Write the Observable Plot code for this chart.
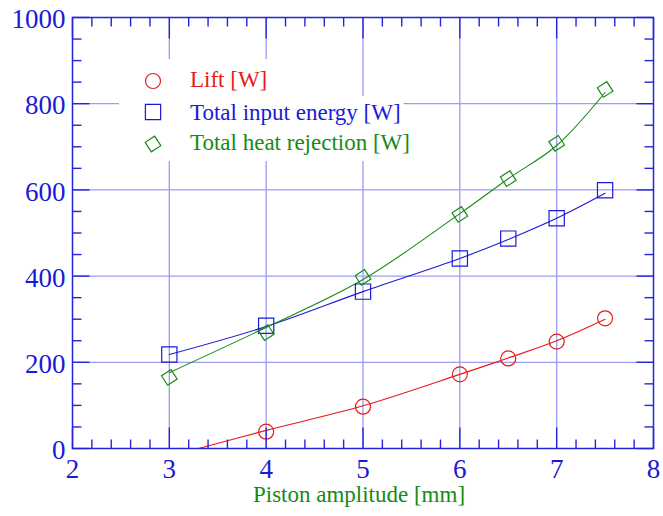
<!DOCTYPE html>
<html><head><meta charset="utf-8">
<script src="https://cdn.jsdelivr.net/npm/d3@7"></script>
<script src="https://cdn.jsdelivr.net/npm/@observablehq/plot@0.6"></script>
<style>
body{margin:0;background:#fff;}
#wrap{width:663px;height:516px;}
</style></head><body><div id="wrap"></div>
<script>
// ---- data ----
const amplitude = [3, 4, 5, 6, 6.5, 7, 7.5];
const liftAmp = [4, 5, 6, 6.5, 7, 7.5];
const lift = [39, 97, 172, 209, 248, 302];
const inputEnergy = [218, 285, 364, 441, 487, 534, 599];
const heatRejection = [165, 269, 397, 543, 626, 708, 833];
// fitted curves drawn as lines
const liftFitAmp = [3.3, 4, 5, 6, 6.5, 7, 7.5];
const liftFit = [0, 42, 99, 172, 210, 250, 300];
const inputFitAmp = [3, 4, 5, 6, 6.5, 7, 7.5];
const inputFit = [218, 283, 364, 441, 485, 534, 592];
const heatFitAmp = [3, 4, 5, 6, 6.5, 7, 7.5];
const heatFit = [176, 281, 392, 545, 626, 703, 826];
// ticks
const xTicks = [2, 3, 4, 5, 6, 7, 8];
const yTicks = [0, 200, 400, 600, 800, 1000];
const xGrid = [3, 4, 5, 6, 7];
const yGrid = [200, 400, 600, 800];
const xMinor = d3.range(2, 8.001, 0.2).map(v => +v.toFixed(1)).filter(v => !Number.isInteger(v));
const yMinor = d3.range(0, 1001, 50).filter(v => v % 200 !== 0);
const seriesNames = ["Lift [W]", "Total input energy [W]", "Total heat rejection [W]"];

const red = "#e81a1a", blue = "#1a1ad8", green = "#168a16";
const axisBlue = "#2424dc", gridCol = "#9d9df0";
const font = "'Liberation Serif', 'Times New Roman', 'DejaVu Serif', serif";

const tickShape = {draw(ctx, l) { ctx.moveTo(0, 0); ctx.lineTo(0, -l); }};
const tk = (data, opts) => Plot.vector(data, {anchor: "start", shape: tickShape, stroke: axisBlue, strokeWidth: 1.4, strokeLinecap: "butt", ...opts});

const lines = (xs, ys, color) => Plot.line(xs.map((x, i) => ({x, y: ys[i]})), {x: "x", y: "y", stroke: color, strokeWidth: 1.1, curve: "catmull-rom", clip: true});
const dots = (xs, ys, color, symbol, r, rotate = 0) => Plot.dot(xs.map((x, i) => ({x, y: ys[i]})), {x: "x", y: "y", stroke: color, fill: "none", symbol, r, strokeWidth: 1.2, rotate});

const plot = Plot.plot({
  width: 663, height: 516,
  marginLeft: 72, marginRight: 10, marginTop: 17, marginBottom: 68,
  x: {domain: [2, 8], axis: null}, y: {domain: [0, 1000], axis: null},
  style: {fontFamily: font, background: "white"},
  marks: [
    Plot.ruleX(xGrid, {stroke: gridCol, strokeWidth: 1.3}),
    Plot.ruleY(yGrid, {stroke: gridCol, strokeWidth: 1.3}),
    lines(liftFitAmp, liftFit, red),
    lines(inputFitAmp, inputFit, blue),
    lines(heatFitAmp, heatFit, green),
    dots(liftAmp, lift, red, "circle", 7.5),
    dots(amplitude, inputEnergy, blue, "square", 8.6),
    dots(amplitude, heatRejection, green, "diamond2", 7.2, 12),
    Plot.frame({stroke: axisBlue, strokeWidth: 1.5}),
    // bottom / top ticks
    tk(xTicks, {x: d => d, frameAnchor: "bottom", rotate: 0, length: 21}),
    tk(xMinor, {x: d => d, frameAnchor: "bottom", rotate: 0, length: 9}),
    tk(xTicks, {x: d => d, frameAnchor: "top", rotate: 180, length: 21}),
    tk(xMinor, {x: d => d, frameAnchor: "top", rotate: 180, length: 9}),
    // left / right ticks
    tk(yTicks, {y: d => d, frameAnchor: "left", rotate: 90, length: 17}),
    tk(yMinor, {y: d => d, frameAnchor: "left", rotate: 90, length: 9}),
    tk(yTicks, {y: d => d, frameAnchor: "right", rotate: -90, length: 17}),
    tk(yMinor, {y: d => d, frameAnchor: "right", rotate: -90, length: 9}),
    // tick labels
    Plot.text(xTicks, {x: d => d, text: d => String(d), frameAnchor: "bottom", lineAnchor: "top", dy: 10, fontSize: 27, fill: blue, fontFamily: font}),
    Plot.text(yTicks, {y: d => d, text: d => String(d), frameAnchor: "left", textAnchor: "end", dx: -7, dy: 2, fontSize: 27, fill: blue, fontFamily: font}),
    Plot.text(["Piston amplitude [mm]"], {text: d => d, frameAnchor: "bottom", dy: 53, dx: -4, fontSize: 23, fill: green, fontFamily: font})
  ]
});
document.getElementById("wrap").appendChild(plot);

// ---- legend (inside the frame, white boxes masking the grid) ----
const svg = d3.select(plot);
const leg = svg.append("g").style("font-family", font).attr("font-size", 23).attr("text-anchor", "start");
const rows = [
  {name: seriesNames[0], color: red, sym: "circle", r: 7.5, top: 59, bottom: 96, cy: 81, base: 87},
  {name: seriesNames[1], color: blue, sym: "square", r: 8.6, top: 96, bottom: 128, cy: 112, base: 120},
  {name: seriesNames[2], color: green, sym: "diamond2", r: 7.2, top: 128, bottom: 161, cy: 144, base: 150}
];
const symMap = {circle: d3.symbolCircle, square: d3.symbolSquare, diamond2: d3.symbolDiamond2};
rows.forEach(rw => {
  const g = leg.append("g");
  const rect = g.append("rect").attr("x", 119).attr("y", rw.top).attr("height", rw.bottom - rw.top).attr("fill", "white");
  g.append("path").attr("d", d3.symbol(symMap[rw.sym], Math.PI * rw.r * rw.r)())
    .attr("transform", `translate(153,${rw.cy})` + (rw.sym === "diamond2" ? " rotate(12)" : ""))
    .attr("fill", "none").attr("stroke", rw.color).attr("stroke-width", 1.2);
  const t = g.append("text").attr("x", 190).attr("y", rw.base).attr("fill", rw.color).text(rw.name);
  const w = t.node().getComputedTextLength();
  rect.attr("width", 190 + w + 3 - 119);
});
</script>
</body></html>
